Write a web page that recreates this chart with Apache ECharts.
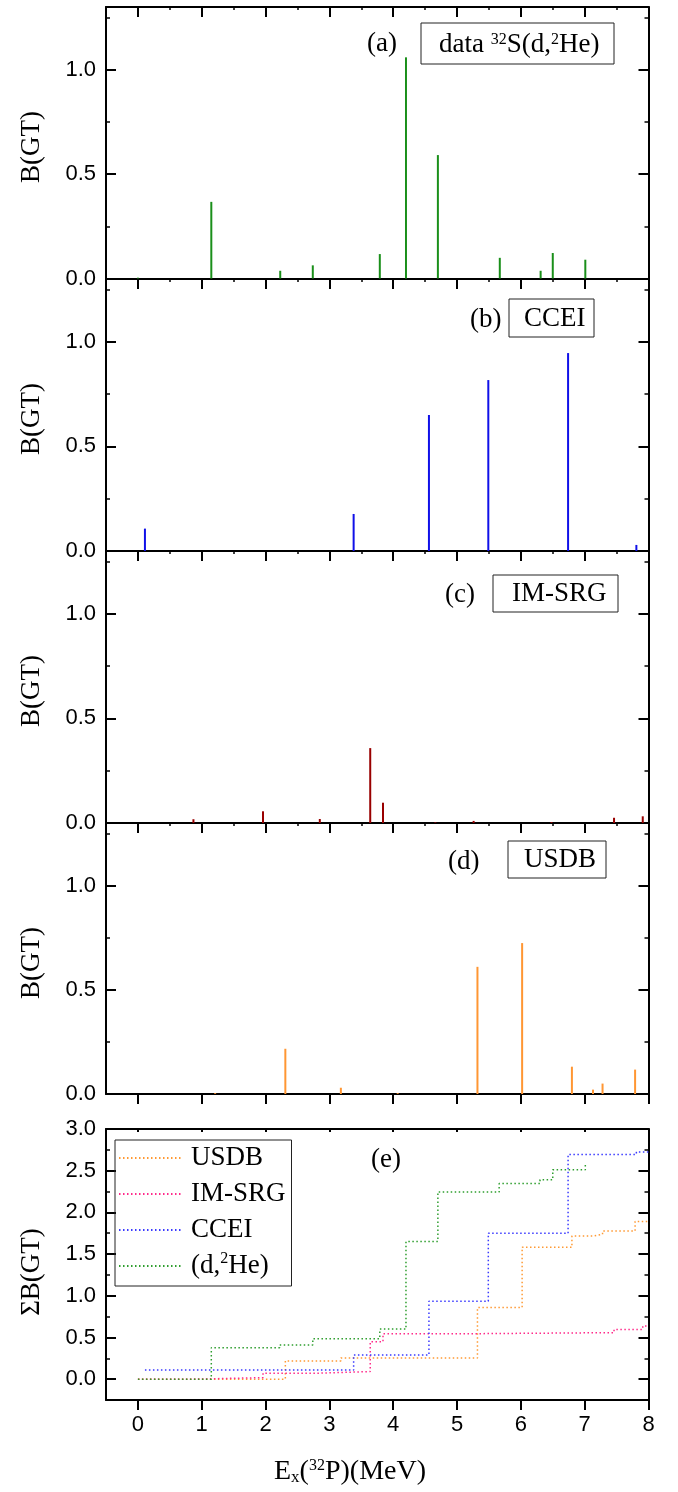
<!DOCTYPE html>
<html lang="en">
<head>
<meta charset="UTF-8">
<title>B(GT) 32S(d,2He)</title>
<style>
  html, body { margin: 0; padding: 0; background: #fff; }
  #chart { width: 678px; height: 1492px; }
</style>
</head>
<body>
<div id="chart"></div>
<script src="https://cdn.jsdelivr.net/npm/echarts@6/dist/echarts.min.js"></script>
<script>
// panel (a)-(d): excitation energy (MeV) and B(GT)
const dataEx = [0, 1.15, 2.23, 2.74, 3.79, 4.20, 4.70, 5.67, 6.31, 6.50, 7.01]
const dataB = [0.004, 0.367, 0.037, 0.063, 0.117, 1.059, 0.591, 0.099, 0.037, 0.122, 0.090]
const cceiEx = [0.11, 3.38, 4.56, 5.49, 6.74, 7.81]
const cceiB = [0.107, 0.177, 0.650, 0.817, 0.946, 0.029]
const imsrgEx = [0.87, 1.96, 2.85, 3.64, 3.84, 4.66, 5.26, 6.48, 7.46, 7.91]
const imsrgB = [0.018, 0.056, 0.019, 0.358, 0.097, 0.003, 0.010, 0.004, 0.025, 0.032]
const usdbEx = [1.21, 2.31, 3.18, 4.07, 5.32, 6.02, 6.80, 7.13, 7.28, 7.79]
const usdbB = [0.004, 0.217, 0.030, 0.004, 0.610, 0.724, 0.131, 0.021, 0.050, 0.117]

// panel (e): running sums
const sumUsdbEx = [0, 2.31, 3.18, 5.32, 6.02, 6.80, 7.13, 7.28, 7.79, 8.0]
const sumUsdb = [0, 0.219, 0.254, 0.858, 1.582, 1.717, 1.738, 1.777, 1.892, 1.892]
const sumImsrgEx = [0, 0.87, 1.96, 2.85, 3.64, 3.84, 5.26, 7.46, 7.91, 8.0]
const sumImsrg = [0, 0.018, 0.072, 0.091, 0.449, 0.545, 0.558, 0.596, 0.636, 0.636]
const sumCceiEx = [0.11, 3.38, 4.56, 5.49, 6.74, 7.81, 8.0]
const sumCcei = [0.11, 0.29, 0.934, 1.75, 2.695, 2.725, 2.725]
const sumDataEx = [0, 1.15, 2.22, 2.74, 3.79, 4.20, 4.70, 5.66, 6.30, 6.50, 7.01]
const sumData = [0, 0.378, 0.41, 0.485, 0.60, 1.65, 2.245, 2.345, 2.39, 2.51, 2.58]

// ticks
const xTicks = [0, 1, 2, 3, 4, 5, 6, 7, 8]
const xMinor = [0.5, 1.5, 2.5, 3.5, 4.5, 5.5, 6.5, 7.5]
const bTicks = [0, 0.5, 1.0]
const bMinor = [0.25, 0.75, 1.25]
const sumTicks = [0, 0.5, 1.0, 1.5, 2.0, 2.5, 3.0]
const sumMinor = [-0.25, 0.25, 0.75, 1.25, 1.75, 2.25, 2.75]

const zip = (xs, ys) => xs.map((x, i) => [x, ys[i]])

const serif = 'Liberation Serif, Times New Roman, serif'
const sans = 'Liberation Sans, Arial, sans-serif'
const black = '#000'

const panels = [
  { top: 7, height: 271.5, min: 0, max: 1.3, ticks: bTicks, minor: bMinor },
  { top: 279, height: 272, min: 0, max: 1.3, ticks: bTicks, minor: bMinor },
  { top: 551, height: 272, min: 0, max: 1.3, ticks: bTicks, minor: bMinor },
  { top: 823, height: 271, min: 0, max: 1.3, ticks: bTicks, minor: bMinor },
  { top: 1129, height: 271, min: -0.25, max: 3.0, ticks: sumTicks, minor: sumMinor }
]

const grids = [], xAxes = [], yAxes = [], idx = []
panels.forEach((p, i) => {
  const last = i === panels.length - 1
  grids.push({ left: 106, width: 542.5, top: p.top, height: p.height })
  idx.push({ x: xAxes.length, y: yAxes.length })

  const xb = { gridIndex: i, type: 'value', min: -0.5, max: 8, interval: 0.5, splitLine: { show: false } }
  xAxes.push({
    ...xb, position: 'bottom',
    axisLine: { onZero: false, lineStyle: { color: black, width: 2 } },
    axisTick: { customValues: xTicks, inside: false, length: 10, lineStyle: { color: black, width: 2 } },
    axisLabel: { show: last, customValues: xTicks, margin: 14, color: black, fontFamily: sans, fontSize: 22 }
  })
  xAxes.push({
    ...xb, position: 'top',
    axisLine: { onZero: false, lineStyle: { color: black, width: 2 } },
    axisTick: { customValues: xTicks, inside: true, length: last ? 3 : 10, lineStyle: { color: black, width: 2 } },
    axisLabel: { show: false }
  })
  if (!last) {
    xAxes.push({
      ...xb, position: 'top',
      axisLine: { show: false, onZero: false },
      axisTick: { customValues: xMinor, inside: true, length: 3, lineStyle: { color: black, width: 1.5 } },
      axisLabel: { show: false }
    })
  }

  const yb = { gridIndex: i, type: 'value', min: p.min, max: p.max, interval: 0.25, splitLine: { show: false } }
  yAxes.push({
    ...yb, position: 'left',
    axisLine: { onZero: false, lineStyle: { color: black, width: 2 } },
    axisTick: { customValues: p.ticks, inside: true, length: 10, lineStyle: { color: black, width: 2 } },
    axisLabel: { customValues: p.ticks, margin: 10, color: black, fontFamily: sans, fontSize: 22,
      formatter: v => v.toFixed(1) }
  })
  yAxes.push({
    ...yb, position: 'left',
    axisLine: { show: false, onZero: false },
    axisTick: { customValues: p.minor, inside: true, length: 4, lineStyle: { color: black, width: 1.5 } },
    axisLabel: { show: false }
  })
  yAxes.push({
    ...yb, position: 'right',
    axisLine: { onZero: false, lineStyle: { color: black, width: 2 } },
    axisTick: { customValues: p.ticks, inside: true, length: 10, lineStyle: { color: black, width: 2 } },
    axisLabel: { show: false }
  })
  yAxes.push({
    ...yb, position: 'right',
    axisLine: { show: false, onZero: false },
    axisTick: { customValues: p.minor, inside: true, length: 4, lineStyle: { color: black, width: 1.5 } },
    axisLabel: { show: false }
  })
})

const bars = (i, ex, b, color) => ({
  type: 'bar', xAxisIndex: idx[i].x, yAxisIndex: idx[i].y,
  data: zip(ex, b), barWidth: 2, itemStyle: { color }, silent: true
})

const steps = (name, ex, s, color) => ({
  name, type: 'line', step: 'end', xAxisIndex: idx[4].x, yAxisIndex: idx[4].y,
  data: zip(ex, s), symbol: 'none',
  lineStyle: { color, width: 1.5, type: [1.5, 2.5] }, itemStyle: { color }
})

const sup = { fontSize: 16, fontFamily: serif, verticalAlign: 'top', lineHeight: 16 }
const sub = { fontSize: 17, fontFamily: serif, verticalAlign: 'bottom', lineHeight: 14 }

const label = (x, y, text) => ({
  type: 'text', x, y,
  style: { text, fill: black, font: '27px ' + serif, textAlign: 'left', textVerticalAlign: 'middle',
    rich: { sup } }
})
const box = (x, y, w, h) => ({
  type: 'rect', shape: { x, y, width: w, height: h },
  style: { fill: 'none', stroke: '#222', lineWidth: 1 }
})
const ytitle = (y, text) => ({
  type: 'text', x: 32, y, rotation: Math.PI / 2,
  style: { text, fill: black, font: '27px ' + serif, textAlign: 'center', textVerticalAlign: 'middle' }
})

const option = {
  animation: false,
  backgroundColor: '#fff',
  grid: grids,
  xAxis: xAxes,
  yAxis: yAxes,
  legend: {
    orient: 'vertical', left: 115, top: 1140,
    padding: [3, 6, 5, 3], itemGap: 6, itemWidth: 64, itemHeight: 14,
    borderColor: '#222', borderWidth: 1,
    itemStyle: { opacity: 0 },
    data: ['USDB', 'IM-SRG', 'CCEI', '(d,2He)'],
    formatter: n => n === '(d,2He)' ? '(d,{sup|2}He)' : n,
    textStyle: { fontFamily: serif, fontSize: 27, lineHeight: 30, color: black, padding: [0, 0, 0, 3],
      rich: { sup: { fontSize: 16, fontFamily: serif, verticalAlign: 'top', lineHeight: 16, color: black } } }
  },
  series: [
    bars(0, dataEx, dataB, '#1a8f1a'),
    bars(1, cceiEx, cceiB, '#1010e8'),
    bars(2, imsrgEx, imsrgB, '#990000'),
    bars(3, usdbEx, usdbB, '#ff9633'),
    steps('USDB', sumUsdbEx, sumUsdb, '#ff9933'),
    steps('IM-SRG', sumImsrgEx, sumImsrg, '#ff2a8a'),
    steps('CCEI', sumCceiEx, sumCcei, '#3a3aff'),
    steps('(d,2He)', sumDataEx, sumData, '#2e9e2e')
  ],
  graphic: [
    label(367, 44, '(a)'),
    box(421, 23, 193, 41),
    label(439, 45, 'data {sup|32}S(d,{sup|2}He)'),
    label(470, 320, '(b)'),
    box(509, 299, 85, 38),
    label(524, 319, 'CCEI'),
    label(445, 595, '(c)'),
    box(493, 575, 125, 37),
    label(512, 594, 'IM-SRG'),
    label(448, 862, '(d)'),
    box(508, 841, 98, 37),
    label(524, 860, 'USDB'),
    label(371, 1160, '(e)'),
    ytitle(147, 'B(GT)'),
    ytitle(419, 'B(GT)'),
    ytitle(691, 'B(GT)'),
    ytitle(963, 'B(GT)'),
    ytitle(1272, 'ΣB(GT)'),
    {
      type: 'text', x: 274, y: 1472,
      style: { text: 'E{sub|x}({sup|32}P)(MeV)', fill: black, font: '28px ' + serif,
        textAlign: 'left', textVerticalAlign: 'middle', rich: { sup, sub } }
    }
  ]
}

const chart = echarts.init(document.getElementById('chart'))
chart.setOption(option)
</script>
</body>
</html>
